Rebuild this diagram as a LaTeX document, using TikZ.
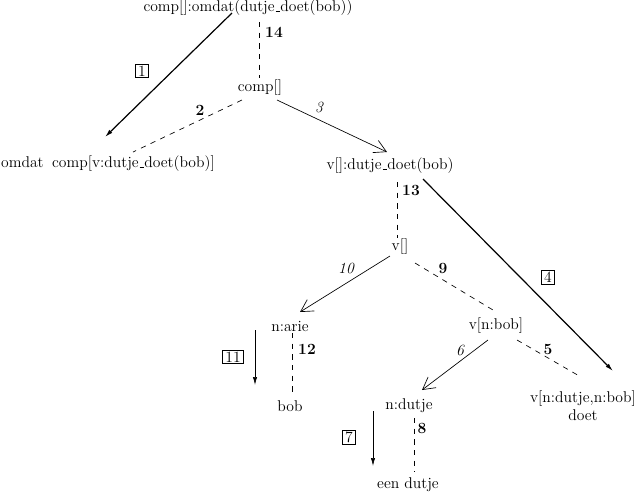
\documentclass[tikz,border=0pt]{standalone}
\usetikzlibrary{arrows.meta,calc}
\newcommand\usc{\kern.06em\vbox{\hrule width.3em height .45pt}}
\begin{document}
\begin{tikzpicture}[x=0.75pt,y=-0.75pt,
  font=\fontsize{11.7}{13.5}\selectfont,
  every node/.style={inner sep=0pt},
  dsh/.style={dash pattern=on 4pt off 4pt, line width=0.5pt},
  sol/.style={line width=0.5pt},
  thk/.style={line width=0.9pt},
  tipf/.style={-{Latex[length=6pt,width=3.2pt]}},
  tipo/.style={-{Straight Barb[length=9pt,width=10pt]}},
  boxlbl/.style={draw, line width=0.5pt, inner xsep=2pt, inner ysep=1.2pt},
  bnum/.style={font=\fontsize{11.7}{13.5}\selectfont\bfseries},
  inum/.style={font=\fontsize{11.7}{13.5}\selectfont\itshape}]
\useasboundingbox (0,0) rectangle (637,494);

% nodes
\node (top) at (248,8) {comp[]:omdat(dutje\usc doet(bob))};
\node (comp) at (260,88) {comp[]};
\node (omdat) at (108,164) {omdat\hskip0.55em comp[v:dutje\usc doet(bob)]};
\node (vdd) at (390,166) {v[]:dutje\usc doet(bob)};
\node (v) at (400,247) {v[]};
\node (arie) at (290,326) {n:arie};
\node (vbob) at (496,326) {v[n:bob]};
\node (bob) at (290,406) {bob};
\node (ndutje) at (409,406) {n:dutje};
\node[align=center] (vnd) at (583,406) {v[n:dutje,n:bob]\\doet};
\node (een) at (408,485) {een dutje};

% connectors
\draw[thk,tipf] ([shift={(-16,5)}]top.center) -- ([shift={(-3,-27)}]omdat.center);
\draw[dsh] ([shift={(11,14)}]top.center) -- ([shift={(-1,-10)}]comp.center);
\draw[dsh] ([shift={(-18,12)}]comp.center) -- ([shift={(25,-12)}]omdat.center);
\draw[sol,tipo] ([shift={(17,12)}]comp.center) -- ([shift={(-3,-14)}]vdd.center);
\draw[dsh] ([shift={(7,16)}]vdd.center) -- ([shift={(-3,-9)}]v.center);
\draw[thk,tipf] ([shift={(33,13)}]vdd.center) -- ([shift={(30,-35)}]vnd.center);
\draw[sol,tipo] ([shift={(-10,9)}]v.center) -- ([shift={(10,-14)}]arie.center);
\draw[dsh] ([shift={(15,16)}]v.center) -- ([shift={(-3,-16)}]vbob.center);
\draw[dsh] ([shift={(2,7)}]arie.center) -- ([shift={(2,-14)}]bob.center);
\draw[sol,tipf] ([shift={(-35,4)}]arie.center) -- ([shift={(-35,-21)}]bob.center);
\draw[sol,tipo] ([shift={(-8,14)}]vbob.center) -- ([shift={(13,-16)}]ndutje.center);
\draw[dsh] ([shift={(21,14)}]vbob.center) -- ([shift={(-2,-29)}]vnd.center);
\draw[dsh] ([shift={(5,12)}]ndutje.center) -- ([shift={(6,-13)}]een.center);
\draw[sol,tipf] ([shift={(-36,5)}]ndutje.center) -- ([shift={(-35,-19)}]een.center);

% labels
\node[boxlbl] (l1) at (142,71) {1};
\node[bnum] (l14) at (274,32) {14};
\node[bnum] (l2) at (200,110) {2};
\node[inum] (l3) at (319,107) {3};
\node[bnum] (l13) at (411,190) {13};
\node[boxlbl] (l4) at (548,277) {4};
\node[inum] (l10) at (346,268) {10};
\node[bnum] (l9) at (443,268) {9};
\node[bnum] (l12) at (307,349) {12};
\node[boxlbl] (l11) at (233,357) {11};
\node[inum] (l6) at (460,350) {6};
\node[bnum] (l5) at (548,349) {5};
\node[bnum] (l8) at (422,428) {8};
\node[boxlbl] (l7) at (349,437) {7};
\end{tikzpicture}
\end{document}
